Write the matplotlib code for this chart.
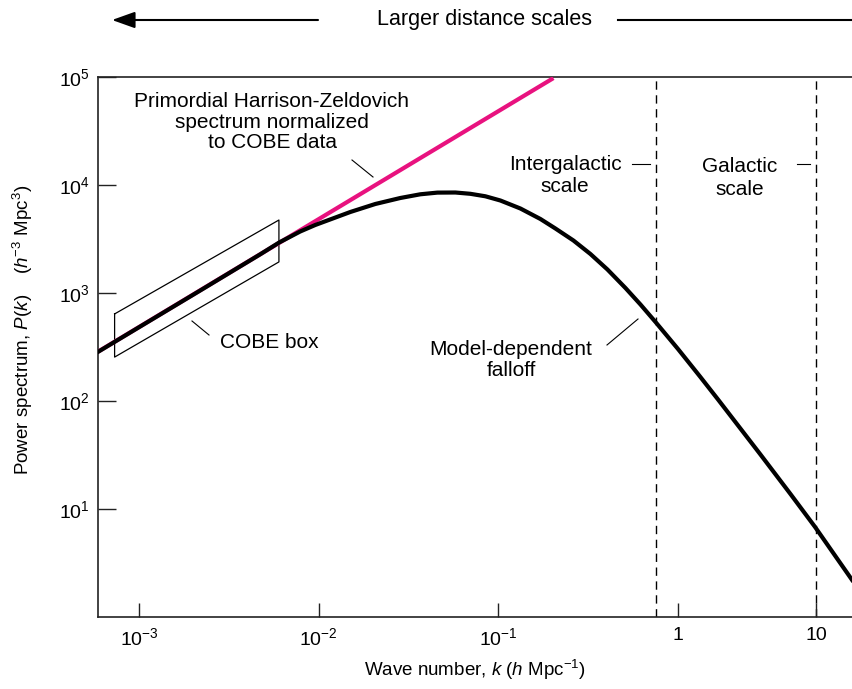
import numpy as np
import matplotlib
matplotlib.use('Agg')
import matplotlib.pyplot as plt
from matplotlib.lines import Line2D

plt.rcParams['font.family'] = ['Liberation Sans', 'DejaVu Sans']
plt.rcParams['mathtext.fontset'] = 'custom'
plt.rcParams['mathtext.rm'] = 'Liberation Sans'
plt.rcParams['mathtext.it'] = 'Liberation Sans:italic'
plt.rcParams['mathtext.bf'] = 'Liberation Sans:bold'

# ------------------------------------------------------------
# data
# ------------------------------------------------------------
# model power spectrum (black curve)
k_model = [5.91e-4, 1.0e-3, 2.19e-3, 4.72e-3, 6.02e-3, 6.94e-3, 7.88e-3,
           9.56e-3, 1.498e-2, 2.064e-2, 2.844e-2, 3.675e-2, 4.572e-2,
           5.760e-2, 6.982e-2, 8.464e-2, 0.1026, 0.1326, 0.1714, 0.2077,
           0.2617, 0.3254, 0.4047, 0.5098, 0.6181, 0.7494, 1.0,
           1.443, 1.950, 3.929, 6.48, 9.835, 18.23]
p_model = [285.5, 483, 1056, 2281, 2935, 3321, 3710,
           4263, 5623, 6670, 7580, 8202, 8502,
           8521, 8288, 7862, 7185, 6059, 4844, 3956,
           3063, 2297, 1651, 1113, 782.5, 539, 303,
           168.6, 103.2, 32.3, 13.92, 6.81, 2.20]

# Harrison-Zeldovich P ~ k, normalised to COBE (pink line)
k_hz = [5.9e-4, 0.2025]
p_hz = [286, 9.77e4]

# COBE box (parallelogram)
cobe_k = [7.3e-4, 6.0e-3]
cobe_top = [640, 4740]
cobe_bot = [255, 1940]

# characteristic scales (dashed lines)
k_intergalactic = 0.75
k_galactic = 10.0

xticks = [1e-3, 1e-2, 1e-1, 1, 10]
xtick_labels = [r'$10^{-3}$', r'$10^{-2}$', r'$10^{-1}$', '1', '10']
yticks = [1e1, 1e2, 1e3, 1e4, 1e5]
ytick_labels = [r'$10^{1}$', r'$10^{2}$', r'$10^{3}$', r'$10^{4}$', r'$10^{5}$']

# the original drawing squeezes the last decade (1 -> 10)
squeeze = 138 / 179.5


def fwd(k):
    k = np.asarray(k, dtype=float)
    lk = np.log10(np.where(k > 0, k, 1e-300))
    return np.where(lk > 0, lk * squeeze, lk)


def inv(v):
    v = np.asarray(v, dtype=float)
    return np.where(v > 0, 10 ** (v / squeeze), 10 ** v)


W, H = 852, 689
fig = plt.figure(figsize=(W / 100, H / 100), dpi=100)


def px(x, y):
    return (x / W, 1 - y / H)


ax = fig.add_axes([98 / W, (H - 617) / H, (W - 98) / W, (617 - 77) / H])
ax.set_xscale('function', functions=(fwd, inv))
ax.set_yscale('log')
ax.set_xlim(5.9e-4, 18.2)
ax.set_ylim(1, 1e5)

ink = '#222222'
for side in ['left', 'bottom', 'top']:
    ax.spines[side].set_linewidth(1.2)
    ax.spines[side].set_color(ink)
ax.spines['right'].set_visible(False)

ax.set_xticks(xticks, labels=xtick_labels)
ax.set_yticks(yticks, labels=ytick_labels)
ax.minorticks_off()
ax.tick_params(axis='x', direction='in', length=10, width=1, color=ink,
               labelsize=14, pad=7, top=False)
ax.tick_params(axis='y', direction='in', length=13, width=1, color=ink,
               labelsize=14, pad=6, right=False)

# dashed scale markers
for kv in [k_intergalactic, k_galactic]:
    ax.axvline(kv, color='black', lw=1.0, ls=(0, (6, 4)), zorder=1)

# COBE box
box_k = [cobe_k[0], cobe_k[1], cobe_k[1], cobe_k[0], cobe_k[0]]
box_p = [cobe_top[0], cobe_top[1], cobe_bot[1], cobe_bot[0], cobe_top[0]]
ax.plot(box_k, box_p, color='black', lw=0.9, zorder=2)

ax.plot(k_hz, p_hz, color='#e8127f', lw=3.0, solid_capstyle='butt', zorder=3)
ax.plot(k_model, p_model, color='black', lw=3.0, zorder=4,
        solid_joinstyle='round')

ax.set_xlabel(r'Wave number, $\it{k}$ ($\it{h}$ Mpc$^{-1}$)', fontsize=13.5, labelpad=7)
ax.set_ylabel(r'Power spectrum, $\it{P}$($\it{k}$)    ($\it{h}^{-3}$ Mpc$^{3}$)',
              fontsize=13.5)
ax.yaxis.set_label_coords((35 - 98) / 754, (617 - 330) / 540)

# annotations inside the plot
fs = 15
fig.text(*px(272, 122), 'Primordial Harrison-Zeldovich\nspectrum normalized\nto COBE data',
         ha='center', va='center', fontsize=fs, linespacing=1.1)
fig.text(*px(220, 343), 'COBE box', ha='left', va='center', fontsize=fs)
fig.text(*px(565, 176), 'Intergalactic\nscale', ha='center', va='center',
         fontsize=fs, linespacing=1.2)
fig.text(*px(740, 178), 'Galactic\nscale', ha='center', va='center',
         fontsize=fs, linespacing=1.2)
fig.text(*px(511, 360), 'Model-dependent\nfalloff', ha='center', va='center',
         fontsize=fs, linespacing=1.1)

leaders = [((352, 160), (373, 177)),
           ((192, 321), (209, 335)),
           ((632, 164), (650, 164)),
           ((797, 164), (810, 164)),
           ((607, 345), (638, 319))]
for a, b in leaders:
    (x0, y0), (x1, y1) = px(*a), px(*b)
    fig.add_artist(Line2D([x0, x1], [y0, y1], transform=fig.transFigure,
                          color='black', lw=0.8))

# header arrow
fig.text(*px(485, 20), 'Larger distance scales', ha='center', va='center', fontsize=15.5)
fig.add_artist(Line2D([px(618, 20)[0], px(852, 20)[0]], [px(618, 20)[1]] * 2,
                      transform=fig.transFigure, color='black', lw=1.5))
ax.annotate('', xy=px(112, 20), xytext=px(318, 20),
            xycoords='figure fraction', textcoords='figure fraction',
            arrowprops=dict(arrowstyle='-|>,head_length=1.4,head_width=0.5',
                            color='black', lw=1.5, shrinkA=0, shrinkB=0))

plt.savefig('out.png', dpi=100)
plt.close()
